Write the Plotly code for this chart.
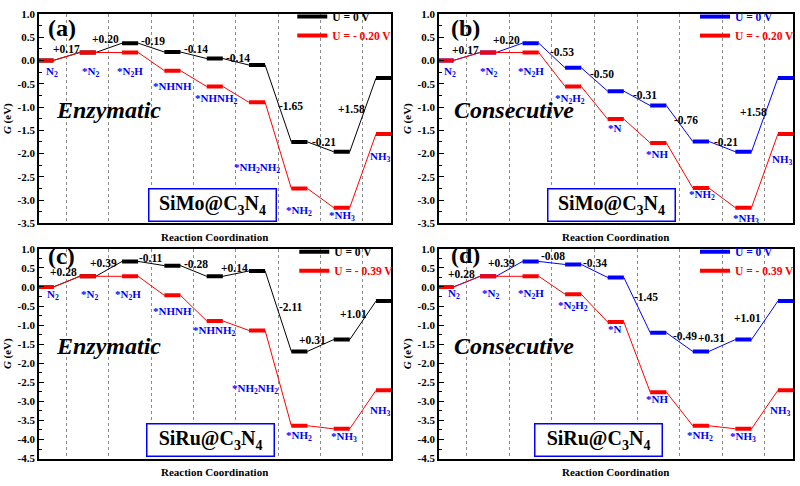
import plotly.graph_objects as go

# ---------------- data ----------------
steps = list(range(9))

states_enz = ["N<sub>2</sub>", "*N<sub>2</sub>", "*N<sub>2</sub>H", "*NHNH", "*NHNH<sub>2</sub>",
              "*NH<sub>2</sub>NH<sub>2</sub>", "*NH<sub>2</sub>", "*NH<sub>3</sub>", "NH<sub>3</sub>"]
states_con = ["N<sub>2</sub>", "*N<sub>2</sub>", "*N<sub>2</sub>H", "*N<sub>2</sub>H<sub>2</sub>", "*N",
              "*NH", "*NH<sub>2</sub>", "*NH<sub>3</sub>", "NH<sub>3</sub>"]

# free energies (eV)
g_a_0 = [0.00, 0.17, 0.37, 0.18, 0.04, -0.10, -1.75, -1.96, -0.38]
g_a_u = [0.00, 0.17, 0.17, -0.22, -0.56, -0.90, -2.75, -3.16, -1.58]
g_b_0 = [0.00, 0.17, 0.37, -0.16, -0.66, -0.97, -1.74, -1.96, -0.38]
g_b_u = [0.00, 0.17, 0.17, -0.56, -1.26, -1.77, -2.74, -3.16, -1.58]
g_c_0 = [0.00, 0.28, 0.67, 0.56, 0.28, 0.42, -1.69, -1.38, -0.37]
g_c_u = [0.00, 0.28, 0.28, -0.22, -0.89, -1.14, -3.64, -3.72, -2.71]
g_d_0 = [0.00, 0.28, 0.67, 0.59, 0.25, -1.20, -1.69, -1.38, -0.37]
g_d_u = [0.00, 0.28, 0.28, -0.19, -0.92, -2.76, -3.64, -3.72, -2.71]

dg_a = ["+0.17", "+0.20", "-0.19", "-0.14", "-0.14", "-1.65", "-0.21", "+1.58"]
dg_b = ["+0.17", "+0.20", "-0.53", "-0.50", "-0.31", "-0.76", "-0.21", "+1.58"]
dg_c = ["+0.28", "+0.39", "-0.11", "-0.28", "+0.14", "-2.11", "+0.31", "+1.01"]
dg_d = ["+0.28", "+0.39", "-0.08", "-0.34", "-1.45", "-0.49", "+0.31", "+1.01"]

legend_u0 = "U = 0 V"
legend_u_ab = "U = - 0.20 V"
legend_u_cd = "U = - 0.39 V"

y_ticks_top = [1.0, 0.5, 0.0, -0.5, -1.0, -1.5, -2.0, -2.5, -3.0, -3.5]
y_ticks_bot = [1.0, 0.5, 0.0, -0.5, -1.0, -1.5, -2.0, -2.5, -3.0, -3.5, -4.0, -4.5]

# ---------------- annotation placement (data coords) ----------------
state_pos_a = [(0.15, -0.25), (1.07, -0.25), (1.99, -0.25), (3.0, -0.55), (4.04, -0.82),
               (5.0, -2.3), (6.0, -3.23), (7.0, -3.33), (7.92, -2.07)]
state_pos_b = [(0.11, -0.25), (1.02, -0.25), (2.01, -0.25), (2.92, -0.82), (3.98, -1.45),
               (4.96, -2.01), (6.03, -2.89), (7.07, -3.41), (7.92, -2.14)]
state_pos_c = [(0.18, -0.22), (1.03, -0.22), (1.95, -0.22), (3.01, -0.64), (3.99, -1.15),
               (4.96, -2.67), (6.0, -3.9), (7.05, -3.93), (7.92, -3.25)]
state_pos_d = [(0.19, -0.18), (1.05, -0.18), (2.01, -0.18), (3.0, -0.49), (3.98, -1.09),
               (4.96, -2.94), (5.98, -3.9), (6.99, -3.93), (7.88, -3.25)]

dg_pos_a = [(0.5, 0.25), (1.42, 0.46), (2.55, 0.41), (3.56, 0.25), (4.54, 0.06),
            (5.8, -0.97), (6.58, -1.76), (7.22, -1.05)]
dg_pos_b = [(0.46, 0.23), (1.44, 0.44), (2.74, 0.18), (3.67, -0.30), (4.69, -0.74),
            (5.66, -1.28), (6.6, -1.76), (7.23, -1.11)]
dg_pos_c = [(0.42, 0.38), (1.36, 0.64), (2.5, 0.77), (3.56, 0.59), (4.46, 0.51),
            (5.8, -0.53), (6.3, -1.39), (7.29, -0.71)]
dg_pos_d = [(0.38, 0.33), (1.32, 0.64), (2.53, 0.80), (3.51, 0.62), (4.72, -0.26),
            (5.62, -1.28), (6.24, -1.35), (7.09, -0.82)]

# ---------------- styling ----------------
FONT = "Liberation Serif"
BLACK, RED, BLUE, GRID = "#000000", "#ff0000", "#0000ff", "#8c8c8c"
HW = 0.19          # half width of an energy level
W, H = 800, 486


def px_x(a, b):
    return [a / W, b / W]


def px_y(top, bottom):
    return [1 - bottom / H, 1 - top / H]


panels = [
    dict(ax="", g0=g_a_0, gu=g_a_u, c0=BLACK, name_u=legend_u_ab, states=states_enz,
         spos=state_pos_a, dg=dg_a, dpos=dg_pos_a, tag="(a)", mode="Enzymatic",
         mode_xy=(1.5, -1.07), cat="SiMo@C<sub>3</sub>N<sub>4</sub>",
         xd=px_x(39, 392), yd=px_y(8, 223), yr=[-3.5, 1.0], yt=y_ticks_top,
         leg="legend", legxy=(293, -4), box=(213, 204.5), tagxy=(62, 23), xt_y=236.5),
    dict(ax="2", g0=g_b_0, gu=g_b_u, c0=BLUE, name_u=legend_u_ab, states=states_con,
         spos=state_pos_b, dg=dg_b, dpos=dg_pos_b, tag="(b)", mode="Consecutive",
         mode_xy=(1.62, -1.07), cat="SiMo@C<sub>3</sub>N<sub>4</sub>",
         xd=px_x(440, 795), yd=px_y(8, 223), yr=[-3.5, 1.0], yt=y_ticks_top,
         leg="legend2", legxy=(697, -4), box=(613, 204.5), tagxy=(467, 23), xt_y=236.5),
    dict(ax="3", g0=g_c_0, gu=g_c_u, c0=BLACK, name_u=legend_u_cd, states=states_enz,
         spos=state_pos_c, dg=dg_c, dpos=dg_pos_c, tag="(c)", mode="Enzymatic",
         mode_xy=(1.5, -1.56), cat="SiRu@C<sub>3</sub>N<sub>4</sub>",
         xd=px_x(39, 392), yd=px_y(249, 464), yr=[-4.5, 1.0], yt=y_ticks_bot,
         leg="legend3", legxy=(295, 237), box=(211.5, 444.5), tagxy=(62, 256), xt_y=478),
    dict(ax="4", g0=g_d_0, gu=g_d_u, c0=BLUE, name_u=legend_u_cd, states=states_con,
         spos=state_pos_d, dg=dg_d, dpos=dg_pos_d, tag="(d)", mode="Consecutive",
         mode_xy=(1.62, -1.56), cat="SiRu@C<sub>3</sub>N<sub>4</sub>",
         xd=px_x(440, 795), yd=px_y(249, 464), yr=[-4.5, 1.0], yt=y_ticks_bot,
         leg="legend4", legxy=(697, 237), box=(600.5, 444.5), tagxy=(467, 255), xt_y=478),
]

fig = go.Figure()
annotations = []
layout = {}


def level_paths(vals):
    xs_thin, ys_thin, xs_thick, ys_thick = [], [], [], []
    for s, v in zip(steps, vals):
        xs_thin += [s - HW, s + HW]
        ys_thin += [v, v]
        xs_thick += [s - HW, s + HW, None]
        ys_thick += [v, v, None]
    return xs_thin, ys_thin, xs_thick, ys_thick


for p in panels:
    xa, ya = "x" + p["ax"], "y" + p["ax"]
    for vals, color, name in [(p["g0"], p["c0"], legend_u0), (p["gu"], RED, p["name_u"])]:
        xt, yt, xk, yk = level_paths(vals)
        fig.add_trace(go.Scatter(x=xt, y=yt, mode="lines", xaxis=xa, yaxis=ya,
                                 line=dict(color=color, width=1), showlegend=False,
                                 hoverinfo="skip"))
        fig.add_trace(go.Scatter(x=xk, y=yk, mode="lines", xaxis=xa, yaxis=ya,
                                 line=dict(color=color, width=4),
                                 name=f'<span style="color:{color}">{name}</span>',
                                 legend=p["leg"], showlegend=True))

    # state labels
    for txt, (x, y) in zip(p["states"], p["spos"]):
        annotations.append(dict(x=x, y=y, xref=xa, yref=ya, text=f"<b>{txt}</b>",
                                xanchor="center", yanchor="middle",
                                showarrow=False, font=dict(family=FONT, size=11, color=BLUE)))
    # delta G labels
    for txt, (x, y) in zip(p["dg"], p["dpos"]):
        annotations.append(dict(x=x, y=y, xref=xa, yref=ya, text=f"<b>{txt}</b>",
                                xanchor="center", yanchor="middle",
                                showarrow=False, font=dict(family=FONT, size=11.5, color=BLACK)))
    # mechanism name
    annotations.append(dict(x=p["mode_xy"][0], y=p["mode_xy"][1], xref=xa, yref=ya,
                            text=f"<b><i>{p['mode']}</i></b>", showarrow=False,
                            xanchor="center", yanchor="middle",
                            font=dict(family=FONT, size=24, color=BLACK)))
    # panel tag
    annotations.append(dict(x=p["tagxy"][0] / W, y=1 - p["tagxy"][1] / H, xref="paper",
                            yref="paper", text=f"<b>{p['tag']}</b>", showarrow=False,
                            xanchor="center", yanchor="middle",
                            font=dict(family=FONT, size=24, color=BLACK)))
    # catalyst box
    annotations.append(dict(x=p["box"][0] / W, y=1 - p["box"][1] / H, xref="paper",
                            yref="paper", text=f"<b>{p['cat']}</b>", showarrow=False,
                            xanchor="center", yanchor="middle",
                            width=124, height=29, borderpad=1, bordercolor=BLUE,
                            borderwidth=1.5, bgcolor="white",
                            font=dict(family=FONT, size=20, color=BLACK)))
    # x-axis title
    annotations.append(dict(x=sum(p["xd"]) / 2, y=1 - p["xt_y"] / H, xref="paper",
                            yref="paper", text="<b>Reaction Coordination</b>", showarrow=False,
                            xanchor="center", yanchor="middle",
                            font=dict(family=FONT, size=11, color=BLACK)))

    xkey = "xaxis" + p["ax"]
    ykey = "yaxis" + p["ax"]
    layout[xkey] = dict(domain=p["xd"], range=[-0.155, 8.165], anchor=ya,
                        tickvals=[s + 0.5 for s in steps[:-1]], showticklabels=False,
                        ticks="", showgrid=True, gridcolor=GRID, griddash="dot", gridwidth=1,
                        zeroline=False, showline=True, linecolor=BLACK, linewidth=1.5,
                        mirror=True)
    layout[ykey] = dict(domain=p["yd"], range=p["yr"], anchor=xa,
                        tickvals=p["yt"], ticktext=[f"{v:.1f}" for v in p["yt"]],
                        ticks="inside", ticklen=5, tickwidth=1, tickcolor=BLACK,
                        minor=dict(dtick=0.25, tick0=0, ticks="inside", ticklen=3,
                                   tickcolor=BLACK, showgrid=False),
                        showgrid=False, zeroline=False, showline=True, linecolor=BLACK,
                        linewidth=1.5, mirror=True,
                        tickfont=dict(family=FONT, size=11, color=BLACK, weight="bold"),
                        title=dict(text="<b><i>G</i> (eV)</b>", standoff=4,
                                   font=dict(family=FONT, size=11, color=BLACK)))
    layout[p["leg"]] = dict(x=p["legxy"][0] / W, y=1 - p["legxy"][1] / H,
                            xanchor="left", yanchor="top",
                            bgcolor="rgba(0,0,0,0)", borderwidth=0, tracegroupgap=0,
                            font=dict(family=FONT, size=11.5, color=BLACK, weight="bold"),
                            itemwidth=30)

fig.update_layout(width=W, height=H, margin=dict(l=0, r=0, t=0, b=0),
                  paper_bgcolor="white", plot_bgcolor="white",
                  annotations=annotations, **layout)

fig.write_html("out.html")
